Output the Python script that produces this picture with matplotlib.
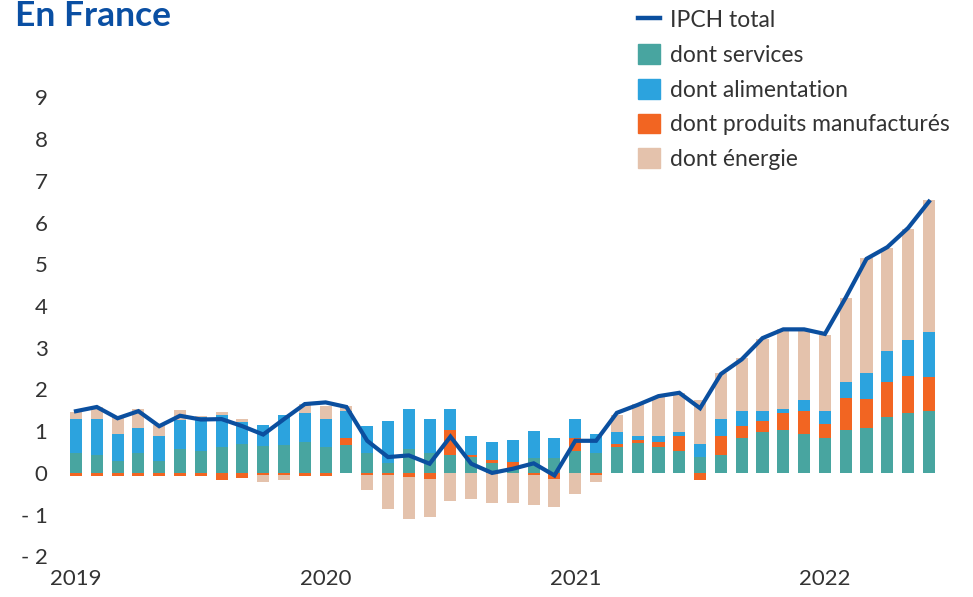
import numpy as np
import matplotlib.pyplot as plt
from matplotlib.patches import Patch
from matplotlib.lines import Line2D

plt.rcParams['font.family'] = ['Lato', 'DejaVu Sans']

# monthly contributions, Jan 2019 - Jun 2022
services = [0.47, 0.43, 0.29, 0.48, 0.29, 0.58, 0.53, 0.62, 0.69, 0.64, 0.67, 0.75,
            0.63, 0.67, 0.48, 0.23, 0.58, 0.47, 0.43, 0.39, 0.24, 0.13, 0.35, 0.35,
            0.53, 0.48, 0.62, 0.72, 0.62, 0.53, 0.38, 0.43, 0.83, 0.98, 1.02, 0.93,
            0.83, 1.02, 1.07, 1.34, 1.44, 1.49]
manuf = [-0.08, -0.08, -0.08, -0.08, -0.08, -0.08, -0.08, -0.17, -0.13, -0.05, -0.05, -0.08,
         -0.08, 0.16, -0.04, -0.05, -0.10, -0.14, 0.60, 0.05, 0.06, 0.12, -0.05, -0.14,
         0.30, -0.05, 0.07, 0.06, 0.12, 0.36, -0.17, 0.46, 0.30, 0.27, 0.42, 0.56,
         0.34, 0.77, 0.70, 0.84, 0.88, 0.81]
alim = [0.82, 0.86, 0.64, 0.60, 0.60, 0.68, 0.80, 0.77, 0.54, 0.51, 0.72, 0.69,
        0.66, 0.66, 0.65, 1.01, 0.95, 0.82, 0.50, 0.45, 0.45, 0.54, 0.65, 0.48,
        0.46, 0.45, 0.28, 0.11, 0.15, 0.09, 0.31, 0.40, 0.36, 0.24, 0.09, 0.26,
        0.32, 0.39, 0.63, 0.75, 0.87, 1.07]
energie = [0.18, 0.30, 0.41, 0.45, 0.26, 0.25, 0.03, 0.08, 0.06, -0.17, -0.12, 0.21,
           0.32, 0.11, -0.37, -0.81, -1.00, -0.91, -0.67, -0.62, -0.72, -0.72, -0.72, -0.68,
           -0.50, -0.16, 0.42, 0.76, 0.92, 0.94, 1.05, 1.11, 1.26, 1.71, 1.91, 1.66,
           1.82, 2.02, 2.76, 2.47, 2.66, 3.18]
ipch = [1.48, 1.58, 1.31, 1.48, 1.12, 1.37, 1.28, 1.29, 1.12, 0.92, 1.29, 1.65,
        1.69, 1.58, 0.77, 0.38, 0.42, 0.22, 0.87, 0.22, 0.00, 0.10, 0.23, -0.06,
        0.77, 0.77, 1.44, 1.63, 1.84, 1.92, 1.55, 2.37, 2.72, 3.23, 3.44, 3.44,
        3.33, 4.20, 5.13, 5.41, 5.87, 6.50]
years = ['2019', '2020', '2021', '2022']

c_serv = '#48a5a0'
c_alim = '#2ca3de'
c_manuf = '#f26522'
c_ener = '#e4c2ac'
c_line = '#0b4f9f'
c_text = '#333333'

x = np.arange(len(ipch))
fig = plt.figure(figsize=(9.73, 5.97), dpi=100)
ax = fig.add_axes([0.0674, 0.0680, 0.898, 0.769])

# stacking order from the zero line outwards
series = [(services, c_serv), (manuf, c_manuf), (alim, c_alim), (energie, c_ener)]
pos = np.zeros(len(x))
neg = np.zeros(len(x))
for vals, col in series:
    v = np.array(vals)
    bottom = np.where(v >= 0, pos, neg)
    ax.bar(x, v, 0.58, bottom=bottom, color=col, linewidth=0, zorder=2)
    pos = pos + np.where(v >= 0, v, 0)
    neg = neg + np.where(v < 0, v, 0)

ax.plot(x, ipch, color=c_line, lw=3.0, zorder=3, solid_joinstyle='miter')

ax.set_xlim(-0.5, len(x) - 0.5)
ax.set_ylim(-2, 9)
ax.set_yticks(range(-2, 10))
ax.set_yticklabels([('- %d' % -v) if v < 0 else str(v) for v in range(-2, 10)])
ax.set_xticks([0, 12, 24, 36])
ax.set_xticklabels(years)
for s in ax.spines.values():
    s.set_visible(False)
ax.tick_params(axis='y', length=0, pad=13, labelsize=16, labelcolor=c_text)
ax.tick_params(axis='x', length=0, pad=9, labelsize=16, labelcolor=c_text)

fig.text(15 / 973, 1 - 0 / 597, 'En France', color='#0a4fa3', fontsize=25.5,
         fontweight='bold', va='top', ha='left')

handles = [Line2D([0], [0], color=c_line, lw=3.2),
           Patch(color=c_serv), Patch(color=c_alim), Patch(color=c_manuf), Patch(color=c_ener)]
labels = ['IPCH total', 'dont services', 'dont alimentation',
          'dont produits manufacturés', 'dont énergie']
fig.legend(handles, labels, loc='upper left', bbox_to_anchor=(633 / 973, 1 - 5 / 597),
           frameon=False, fontsize=16.5, handlelength=0.96, handleheight=0.96,
           handletextpad=0.45, labelspacing=0.56, borderaxespad=0, borderpad=0.2,
           labelcolor=c_text)

fig.savefig('out.png', dpi=100)
